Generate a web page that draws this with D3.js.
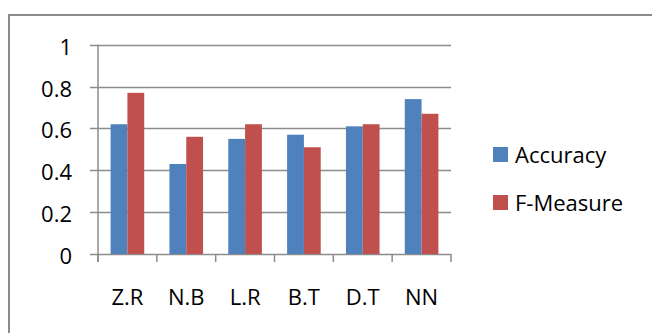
<!DOCTYPE html>
<html>
<head>
<meta charset="utf-8">
<script src="https://cdn.jsdelivr.net/npm/d3@7"></script>
<style>
  html, body { margin: 0; padding: 0; background: #fff; }
  svg { display: block; }
  text { font-family: "Open Sans", "Liberation Sans", sans-serif; fill: #000; }
</style>
</head>
<body>
<svg id="chart" width="652" height="333"></svg>
<script>
const categories = ["Z.R", "N.B", "L.R", "B.T", "D.T", "NN"];
const seriesNames = ["Accuracy", "F-Measure"];
const accuracy = [0.62, 0.43, 0.55, 0.57, 0.61, 0.74];
const fMeasure = [0.77, 0.56, 0.62, 0.51, 0.62, 0.67];
const yTicks = [0, 0.2, 0.4, 0.6, 0.8, 1];
const yTickLabels = ["0", "0.2", "0.4", "0.6", "0.8", "1"];
const colors = ["#4f81bd", "#c0504d"];

const seriesValues = [accuracy, fMeasure];
const svg = d3.select("#chart");

// outer chart border
svg.append("rect")
  .attr("x", 9).attr("y", 15).attr("width", 700).attr("height", 400)
  .attr("fill", "none").attr("stroke", "#8c8c8c").attr("stroke-width", 2);

const plot = { left: 98, right: 451, top: 44.7, bottom: 254 };

const x = d3.scaleBand().domain(categories).range([plot.left, plot.right]).paddingInner(0).paddingOuter(0);
const x1 = d3.scaleBand().domain(seriesNames).range([0, x.bandwidth()]).paddingInner(0).paddingOuter(0.75);
const y = d3.scaleLinear().domain([0, 1]).range([plot.bottom, plot.top]);

// gridlines
svg.append("g").selectAll("line").data(yTicks).join("line")
  .attr("x1", plot.left - 8).attr("x2", plot.right)
  .attr("y1", d => Math.round(y(d)) + 0.5).attr("y2", d => Math.round(y(d)) + 0.5)
  .attr("stroke", "#8c8c8c").attr("stroke-width", 1.5);

// y axis labels
svg.append("g").selectAll("text").data(yTicks).join("text")
  .attr("x", 72).attr("y", d => y(d) + 1)
  .attr("text-anchor", "end").attr("dominant-baseline", "central")
  .style("font-size", "22px")
  .text((d, i) => yTickLabels[i]);

// bars
const groups = svg.append("g").selectAll("g").data(categories).join("g")
  .attr("transform", d => `translate(${x(d)},0)`);
groups.selectAll("rect").data((c, ci) => seriesNames.map((s, si) => ({ s, v: seriesValues[si][ci], si })))
  .join("rect")
  .attr("x", d => x1(d.s))
  .attr("width", x1.bandwidth())
  .attr("y", d => y(d.v))
  .attr("height", d => y(0) - y(d.v))
  .attr("fill", d => colors[d.si]);

// y axis line
svg.append("line")
  .attr("x1", plot.left).attr("x2", plot.left)
  .attr("y1", plot.top).attr("y2", plot.bottom + 8)
  .attr("stroke", "#8c8c8c").attr("stroke-width", 1.5);

// x axis tick marks
const tickXs = categories.map(c => x(c)).concat([plot.right]);
svg.append("g").selectAll("line").data(tickXs).join("line")
  .attr("x1", d => d).attr("x2", d => d)
  .attr("y1", plot.bottom).attr("y2", plot.bottom + 8)
  .attr("stroke", "#8c8c8c").attr("stroke-width", 1.5);

// category labels
svg.append("g").selectAll("text").data(categories).join("text")
  .attr("x", d => x(d) + x.bandwidth() / 2).attr("y", 305)
  .attr("text-anchor", "middle")
  .style("font-size", "22px")
  .text(d => d);

// legend
const legend = svg.append("g").selectAll("g").data(seriesNames).join("g")
  .attr("transform", (d, i) => `translate(493,${147 + i * 48})`);
legend.append("rect").attr("width", 15).attr("height", 15).attr("fill", (d, i) => colors[i]);
legend.append("text").attr("x", 22).attr("y", 15.5).style("font-size", "22px").text(d => d);
</script>
</body>
</html>
